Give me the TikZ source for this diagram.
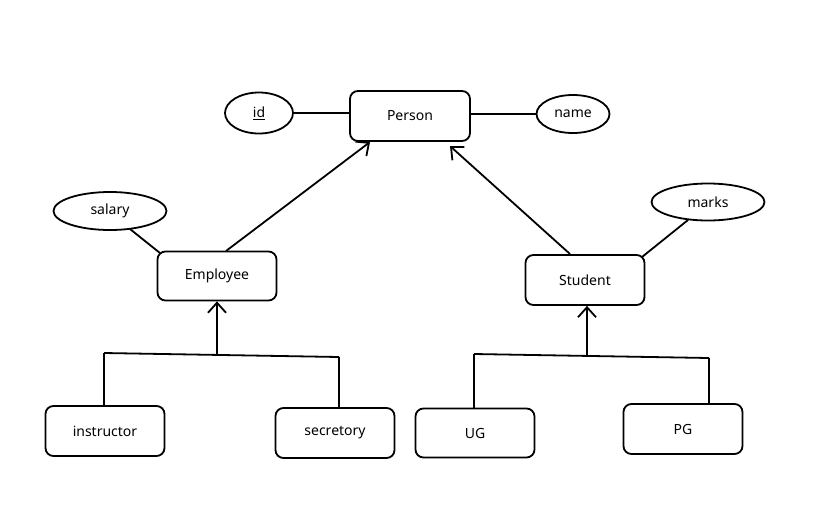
\documentclass[tikz,border=0pt]{standalone}
\usepackage{fontspec}
\setmainfont{Noto Sans}
\usetikzlibrary{arrows.meta,shapes.geometric}
\begin{document}
\begin{tikzpicture}[x=1pt,y=-1pt,
  ent/.style={draw,line width=1.8pt,rounded corners=8pt,minimum width=119pt,minimum height=49pt,inner sep=0pt,font=\fontsize{14}{16}\selectfont},
  attr/.style={draw,ellipse,line width=1.8pt,inner sep=0pt,font=\fontsize{14}{16}\selectfont},
  ln/.style={line width=1.8pt},
  arr/.style={line width=1.8pt,-{Straight Barb[length=10pt,width=18pt,line width=1.8pt]}}]
\useasboundingbox (0,0) rectangle (830,531);
\fill[white] (0,0) rectangle (830,531);
% entities
\node[ent,minimum width=120pt,minimum height=50pt] (person) at (410,116) {Person};
\node[ent] (emp) at (217,276) {Employee};
\node[ent,minimum height=50pt] (stu) at (585,280) {Student};
\node[ent,minimum height=50pt] (ins) at (105,431) {instructor};
\node[ent,minimum height=50pt] (sec) at (335,433) {secretory};
\node[ent] (ug) at (475,433) {UG};
\node[ent,minimum height=50pt] (pg) at (683,429) {PG};
% attributes
\node[attr,minimum width=68pt,minimum height=41pt] (id) at (259,113) {\underline{id}};
\node[attr,minimum width=73pt,minimum height=38pt] (name) at (573,114) {name};
\node[attr,minimum width=113pt,minimum height=38pt] (salary) at (110,211) {salary};
\node[attr,minimum width=113pt,minimum height=37pt] (marks) at (708,202) {marks};
% attribute links
\draw[ln] (id.east) -- (person.west |- id.east);
\draw[ln] (person.east |- name.west) -- (name.west);
\coordinate (s1) at (130,229);
\coordinate (e1) at (160,253);
\draw[ln] (s1) -- (e1);
\coordinate (m1) at (688,220);
\coordinate (st1) at (642,257);
\draw[ln] (m1) -- (st1);
% isa arrows
\coordinate (ea) at (226,251);
\coordinate (pa) at (370,142);
\draw[arr] (ea) -- (pa);
\coordinate (sa) at (570,254);
\coordinate (pb) at (450,146);
\draw[arr] (sa) -- (pb);
% employee hierarchy
\coordinate (ej) at (217,355);
\draw[arr] (ej) -- (emp.south);
\coordinate (el) at (104,353);
\coordinate (er) at (339,357);
\draw[ln] (el) -- (er);
\draw[ln] (el) -- (ins.north -| el);
\draw[ln] (er) -- (sec.north -| er);
% student hierarchy
\coordinate (sj) at (587,356);
\draw[arr] (sj) -- (stu.south -| sj);
\coordinate (sl) at (474,354);
\coordinate (sr) at (709,358);
\draw[ln] (sl) -- (sr);
\draw[ln] (sl) -- (ug.north -| sl);
\draw[ln] (sr) -- (pg.north -| sr);
\end{tikzpicture}
\end{document}
